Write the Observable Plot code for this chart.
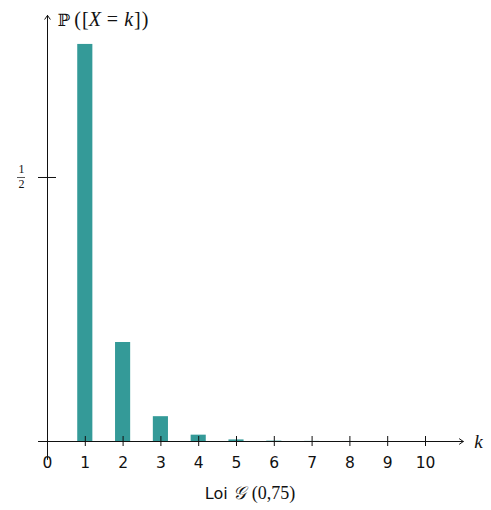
<!DOCTYPE html>
<html>
<head>
<meta charset="utf-8">
<script src="https://cdn.jsdelivr.net/npm/d3@7"></script>
<script src="https://cdn.jsdelivr.net/npm/@observablehq/plot@0.6"></script>
<style>
  body { margin: 0; background: #fff; }
  #caption { width: 491px; text-align: center; padding-left: 9px; box-sizing: border-box;
    font-family: "DejaVu Sans", sans-serif; font-size: 16px; color: #111; margin-top: 5px; }
  #caption .m { font-family: "Liberation Serif", serif; font-size: 18px; }
  #caption .g { padding-right: 6px; }
  .ylabel { opacity: 0.995; }
</style>
</head>
<body>
<div id="chart"></div>
<div id="caption">Loi <span class="m"><i class="g">𝒢</i>(0,75)</span></div>
<script>
// Values
const ks = [1, 2, 3, 4, 5, 6, 7, 8, 9, 10];
const probs = [0.752, 0.1875, 0.047, 0.012, 0.003, 0.0007, 0.0002, 0.00005, 0.00001, 0.000003];
const xTickValues = [0, 1, 2, 3, 4, 5, 6, 7, 8, 9, 10];
const xTickLabels = ["0", "1", "2", "3", "4", "5", "6", "7", "8", "9", "10"];
const yTickValues = [0.5];
const yTickNum = ["1"];
const yTickDen = ["2"];

const data = ks.map((k, i) => ({k, p: probs[i]}));
const xt = xTickValues.map((v, i) => ({v, label: xTickLabels[i]}));
const yt = yTickValues.map((v, i) => ({v, num: yTickNum[i], den: yTickDen[i]}));

const ink = "#111";
const halfBar = 0.2;

const chart = Plot.plot({
  width: 491,
  height: 478,
  marginLeft: 47,
  marginRight: 66,
  marginTop: 0,
  marginBottom: 37,
  x: {type: "linear", domain: [0, 10], axis: null},
  y: {type: "linear", domain: [0, 0.8352], axis: null},
  style: {background: "white", overflow: "visible"},
  marks: [
    Plot.rectY(data, {x1: d => d.k - halfBar, x2: d => d.k + halfBar, y1: 0, y2: "p", fill: "#349a98"}),
    // axes with arrows
    Plot.arrow([0], {x1: -0.24, x2: 11.0, y1: 0, y2: 0, stroke: ink, strokeWidth: 1, headLength: 7, headAngle: 70}),
    Plot.arrow([0], {x1: 0, x2: 0, y1: -0.034, y2: 0.807, stroke: ink, strokeWidth: 1, headLength: 7, headAngle: 70}),
    // x ticks
    Plot.ruleX(xt.filter(d => d.v !== 0), {x: "v", y1: 0, y2: 0, insetTop: -5, insetBottom: -5, stroke: ink}),
    Plot.text(xt, {x: "v", y: 0, text: "label", dy: 22, fontFamily: "DejaVu Sans, sans-serif", fontSize: 15.5, fill: ink}),
    // y tick
    Plot.ruleY(yt, {y: "v", x1: 0, x2: 0, insetLeft: -9, insetRight: -9, stroke: ink}),
    Plot.text(yt, {x: 0, y: "v", text: "num", dx: -26, dy: -8, fontFamily: "Liberation Serif, serif", fontSize: 12, fill: ink}),
    Plot.text(yt, {x: 0, y: "v", text: "den", dx: -26, dy: 7, fontFamily: "Liberation Serif, serif", fontSize: 12, fill: ink}),
    Plot.ruleY(yt, {y: "v", x1: 0, x2: 0, dx: -26, insetLeft: -4, insetRight: -4, stroke: ink, strokeWidth: 0.7}),
    // axis labels
    Plot.text(["k"], {x: 11.4, y: 0, text: d => d, fontFamily: "Liberation Serif, serif", fontStyle: "italic", fontSize: 19, fill: ink}),
    Plot.text(["ylabel"], {x: 0, y: 0.807, text: d => "P([X = k])", dx: 10, dy: 4, textAnchor: "start", fontFamily: "Liberation Serif, serif", fontSize: 20, fill: ink, className: "ylabel"})
  ]
});
document.getElementById("chart").appendChild(chart);

// rich text for the y label (italic variables)
const t = d3.select(chart).select(".ylabel text");
t.text(null);
t.append("tspan").attr("font-family", "DejaVu Serif").attr("font-size", 17).attr("fill", ink).text("ℙ");
t.append("tspan").attr("dx", 4).text("(");
t.append("tspan").attr("dx", 1).text("[");
t.append("tspan").attr("font-style", "italic").text("X");
t.append("tspan").attr("dx", 6).text("=");
t.append("tspan").attr("dx", 6).attr("font-style", "italic").text("k");
t.append("tspan").attr("dx", 1).text("]");
t.append("tspan").attr("dx", 1).text(")");
</script>
</body>
</html>
